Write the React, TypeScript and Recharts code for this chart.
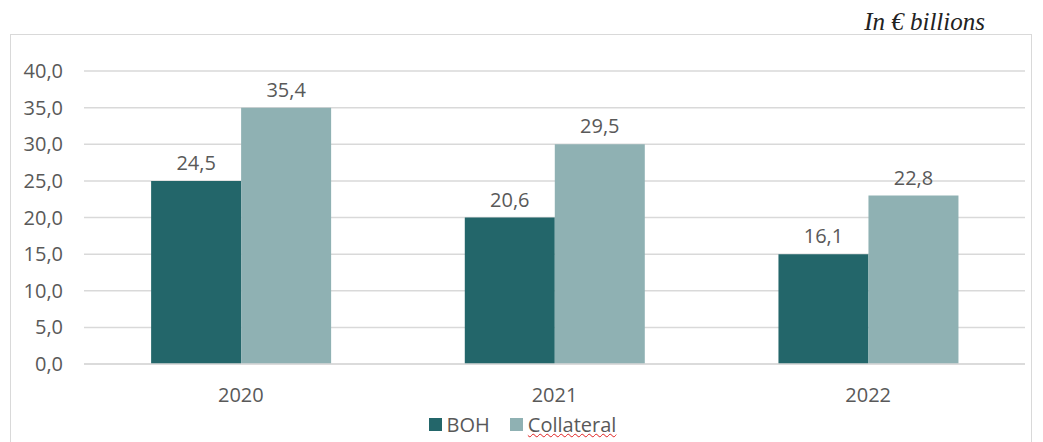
import { Bar, BarChart, CartesianGrid, LabelList, Legend, XAxis, YAxis } from "recharts";

const years = ["2020", "2021", "2022"];
// bar heights as drawn in the source picture
const bohValues = [25, 20, 15];
const collateralValues = [35, 30, 23];
// printed data labels
const bohLabels = ["24,5", "20,6", "16,1"];
const collateralLabels = ["35,4", "29,5", "22,8"];
const yTicks = [0, 5, 10, 15, 20, 25, 30, 35, 40];

const BOH_COLOR = "#23666a";
const COLL_COLOR = "#8fb1b3";
const TEXT = "#595959";
const FONT = "'Open Sans', sans-serif";

const data = years.map((y, i) => ({
    year: y,
    boh: bohValues[i],
    collateral: collateralValues[i],
    bohLabel: bohLabels[i],
    collateralLabel: collateralLabels[i],
}));

const renderLegend = () => (
    <div
        style={{
            display: "flex",
            justifyContent: "center",
            alignItems: "center",
            fontFamily: FONT,
            fontSize: 20,
            color: TEXT,
            gap: 20,
            paddingLeft: 20,
        }}
    >
        <span style={{ display: "flex", alignItems: "center" }}>
            <span style={{ width: 13, height: 13, background: BOH_COLOR, marginRight: 5 }} />
            BOH
        </span>
        <span style={{ display: "flex", alignItems: "center" }}>
            <span style={{ width: 13, height: 13, background: COLL_COLOR, marginRight: 5 }} />
            <span style={{ textDecoration: "underline wavy #e02020", textDecorationThickness: 1 }}>Collateral</span>
        </span>
    </div>
);

export default function App() {
    return (
        <div style={{ position: "absolute", left: 0, top: 0, width: 1043, height: 442, background: "#fff", overflow: "hidden" }}>
            <div
                style={{
                    position: "absolute",
                    left: 10,
                    top: 34,
                    width: 1020,
                    height: 420,
                    border: "1.5px solid #d9d9d9",
                }}
            />
            <div
                style={{
                    position: "absolute",
                    right: 58,
                    top: 8,
                    fontFamily: "'Liberation Serif', serif",
                    fontStyle: "italic",
                    fontSize: 25,
                    color: "#222",
                }}
            >
                In € billions
            </div>
            <div style={{ position: "absolute", left: 0, top: 0 }}>
                <BarChart
                    width={1043}
                    height={442}
                    data={data}
                    margin={{ top: 71, right: 18, bottom: 21, left: 0 }}
                    barCategoryGap="21.4%"
                    barGap={0}
                >
                    <CartesianGrid vertical={false} stroke="#d9d9d9" strokeWidth={1.5} />
                    <XAxis
                        dataKey="year"
                        axisLine={{ stroke: "#d9d9d9", strokeWidth: 1.5 }}
                        tickLine={false}
                        tickMargin={18}
                        height={30}
                        tick={{ fill: TEXT, fontSize: 20, fontFamily: FONT }}
                    />
                    <YAxis
                        width={84}
                        domain={[0, 40]}
                        ticks={yTicks}
                        axisLine={false}
                        tickLine={false}
                        tickMargin={15}
                        tickFormatter={(v: number) => v.toFixed(1).replace(".", ",")}
                        tick={{ fill: TEXT, fontSize: 20, fontFamily: FONT }}
                    />
                    <Legend verticalAlign="bottom" content={renderLegend} wrapperStyle={{ bottom: 4 }} />
                    <Bar dataKey="boh" name="BOH" fill={BOH_COLOR} isAnimationActive={false}>
                        <LabelList dataKey="bohLabel" position="top" offset={11} fill={TEXT} fontSize={20} fontFamily={FONT} />
                    </Bar>
                    <Bar dataKey="collateral" name="Collateral" fill={COLL_COLOR} isAnimationActive={false}>
                        <LabelList dataKey="collateralLabel" position="top" offset={11} fill={TEXT} fontSize={20} fontFamily={FONT} />
                    </Bar>
                </BarChart>
            </div>
        </div>
    );
}
